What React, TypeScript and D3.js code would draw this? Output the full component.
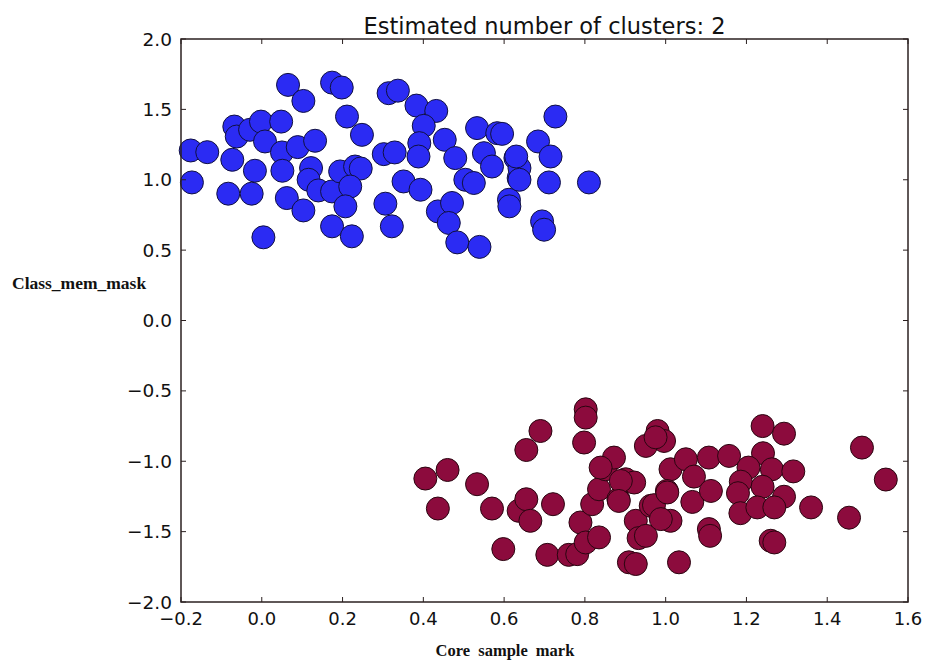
import React from "react";
import * as d3 from "d3";

const title = "Estimated number of clusters: 2";
const xLabel = "Core sample mark";
const yLabel = "Class_mem_mask";
const xTicks = [-0.2, 0.0, 0.2, 0.4, 0.6, 0.8, 1.0, 1.2, 1.4, 1.6];
const yTicks = [2.0, 1.5, 1.0, 0.5, 0.0, -0.5, -1.0, -1.5, -2.0];

const cluster0: [number, number][] = [
  [-0.176, 1.208], [-0.135, 1.196], [-0.173, 0.981],
  [0.065, 1.674], [0.103, 1.56], [0.174, 1.69], [0.198, 1.655], [0.211, 1.449], [0.248, 1.319],
  [-0.068, 1.378], [-0.062, 1.307], [-0.029, 1.355], [-0.002, 1.413], [0.048, 1.413], [0.008, 1.272],
  [-0.073, 1.142], [-0.017, 1.064], [0.05, 1.194], [0.051, 1.064], [0.089, 1.232], [0.132, 1.277],
  [0.122, 1.083], [0.116, 1.0], [0.14, 0.924], [0.174, 0.917], [0.194, 1.059], [0.231, 1.094], [0.245, 1.08],
  [0.219, 0.952], [0.207, 0.811], [0.174, 0.669], [0.223, 0.598], [0.062, 0.87], [0.103, 0.782],
  [-0.083, 0.901], [-0.025, 0.901], [0.004, 0.591],
  [0.314, 1.615], [0.337, 1.633], [0.383, 1.527], [0.432, 1.489], [0.401, 1.383], [0.39, 1.26], [0.388, 1.165],
  [0.302, 1.182], [0.329, 1.194], [0.453, 1.284], [0.479, 1.154], [0.533, 1.367], [0.583, 1.331],
  [0.55, 1.189], [0.57, 1.094], [0.628, 1.154], [0.636, 1.012], [0.504, 1.0], [0.525, 0.977],
  [0.351, 0.988], [0.393, 0.929], [0.727, 1.449], [0.684, 1.272], [0.715, 1.165], [0.711, 0.981], [0.81, 0.981],
  [0.306, 0.83], [0.322, 0.669], [0.436, 0.775], [0.471, 0.835], [0.463, 0.693], [0.484, 0.555], [0.539, 0.523],
  [0.612, 0.858], [0.613, 0.811], [0.694, 0.704], [0.699, 0.645],
  [0.638, 1.083], [0.63, 1.165], [0.595, 1.326], [0.638, 1.0],
];

const cluster1: [number, number][] = [
  [0.405, -1.123], [0.46, -1.062], [0.436, -1.336], [0.533, -1.163], [0.57, -1.336], [0.598, -1.624],
  [0.655, -0.92], [0.69, -0.785], [0.802, -0.631], [0.802, -0.69], [0.798, -0.867],
  [0.636, -1.352], [0.655, -1.27], [0.665, -1.423], [0.721, -1.305], [0.707, -1.665],
  [0.76, -1.665], [0.781, -1.66], [0.789, -1.435], [0.802, -1.577], [0.835, -1.541],
  [0.818, -1.305], [0.835, -1.199], [0.851, -1.057], [0.872, -0.974], [0.883, -1.27],
  [0.901, -1.128], [0.922, -1.151], [0.926, -1.423], [0.933, -1.546], [0.909, -1.718], [0.926, -1.73],
  [0.951, -0.891], [0.98, -0.785], [0.996, -0.856], [1.012, -1.057], [1.05, -0.986], [1.07, -1.109],
  [1.107, -0.974], [1.157, -0.962], [1.003, -1.211], [0.963, -1.317], [1.066, -1.289], [1.112, -1.211],
  [1.012, -1.423], [1.107, -1.482], [1.11, -1.53], [1.033, -1.718],
  [1.24, -0.75], [1.293, -0.804], [1.241, -0.943], [1.205, -1.045], [1.263, -1.057], [1.316, -1.072],
  [1.186, -1.145], [1.24, -1.181], [1.179, -1.227], [1.293, -1.252], [1.185, -1.369], [1.227, -1.328],
  [1.269, -1.328], [1.36, -1.328], [1.26, -1.565], [1.269, -1.577], [1.454, -1.401], [1.486, -0.903],
  [1.545, -1.13], [0.839, -1.045], [0.889, -1.14], [0.884, -1.282], [0.971, -1.312], [0.951, -1.53],
  [0.988, -1.411], [1.004, -1.222], [0.975, -0.83],
];

const W = 925;
const H = 663;
const left = 181;
const right = 908;
const top = 39;
const bottom = 602;

export default function App() {
  const x = d3.scaleLinear().domain([-0.2, 1.6]).range([left, right]);
  const y = d3.scaleLinear().domain([-2, 2]).range([bottom, top]);
  const axisColor = "#2b2020";
  const tickLen = 5;
  const r = 11.5;
  const fmt = (v: number) => (v < 0 ? "\u2212" + Math.abs(v).toFixed(1) : v.toFixed(1));

  return (
    <svg width={W} height={H} style={{ position: "absolute", left: 0, top: 0, background: "#fff" }}>
      <rect x={0} y={0} width={W} height={H} fill="#fff" />
      <g>
        {cluster0.map((d, i) => (
          <circle key={"b" + i} cx={x(d[0])} cy={y(d[1])} r={r} fill="#2b2bf3" stroke="#101040" strokeWidth={1} />
        ))}
        {cluster1.map((d, i) => (
          <circle key={"r" + i} cx={x(d[0])} cy={y(d[1])} r={r} fill="#8c0b3d" stroke="#2a0510" strokeWidth={1} />
        ))}
      </g>
      <rect x={left} y={top} width={right - left} height={bottom - top} fill="none" stroke={axisColor} strokeWidth={1.5} />
      {xTicks.map((t) => (
        <g key={"xt" + t}>
          <line x1={x(t)} x2={x(t)} y1={bottom} y2={bottom - tickLen} stroke={axisColor} strokeWidth={1} />
          <line x1={x(t)} x2={x(t)} y1={top} y2={top + tickLen} stroke={axisColor} strokeWidth={1} />
          <text x={x(t)} y={bottom + 23} textAnchor="middle" fontFamily="DejaVu Sans" fontSize={18} fill="#111">
            {fmt(t)}
          </text>
        </g>
      ))}
      {yTicks.map((t) => (
        <g key={"yt" + t}>
          <line x1={left} x2={left + tickLen} y1={y(t)} y2={y(t)} stroke={axisColor} strokeWidth={1} />
          <line x1={right} x2={right - tickLen} y1={y(t)} y2={y(t)} stroke={axisColor} strokeWidth={1} />
          <text x={left - 9} y={y(t) + 6.5} textAnchor="end" fontFamily="DejaVu Sans" fontSize={18.5} fill="#111">
            {fmt(t)}
          </text>
        </g>
      ))}
      <text x={(left + right) / 2} y={34} textAnchor="middle" fontFamily="DejaVu Sans" fontSize={22.5} fill="#111">
        {title}
      </text>
      <text x={505} y={656} textAnchor="middle" fontFamily="Liberation Serif" fontWeight="bold" fontSize={16.5} fill="#111" wordSpacing={4}>
        {xLabel}
      </text>
      <text x={12} y={289} textAnchor="start" fontFamily="Liberation Serif" fontWeight="bold" fontSize={17.5} fill="#111">
        {yLabel}
      </text>
    </svg>
  );
}
